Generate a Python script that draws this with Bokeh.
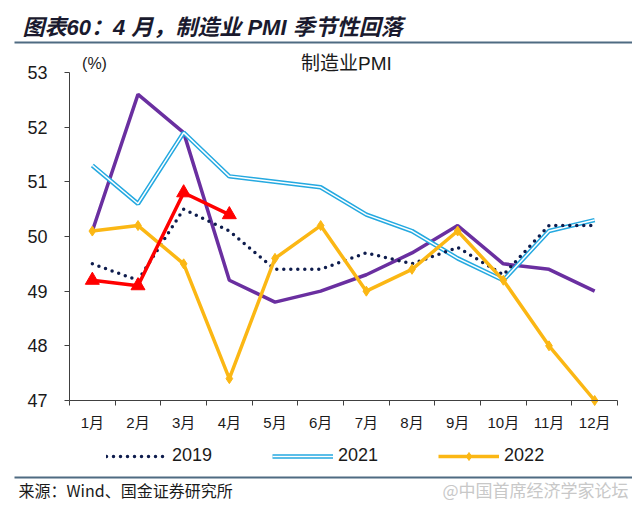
from bokeh.plotting import figure
from bokeh.models import (Range1d, FixedTicker, Label, BoxAnnotation, Legend, LegendItem)
from bokeh.embed import file_html
from bokeh.resources import INLINE

months = ["1月", "2月", "3月", "4月", "5月", "6月", "7月", "8月", "9月", "10月", "11月", "12月"]
x_idx = list(range(1, 13))
pmi_2019 = [49.5, 49.2, 50.5, 50.1, 49.4, 49.4, 49.7, 49.5, 49.8, 49.3, 50.2, 50.2]
pmi_2021 = [51.3, 50.6, 51.9, 51.1, 51.0, 50.9, 50.4, 50.1, 49.6, 49.2, 50.1, 50.3]
pmi_2022 = [50.1, 50.2, 49.5, 47.4, 49.6, 50.2, 49.0, 49.4, 50.1, 49.2, 48.0, 47.0]
pmi_2023 = [50.1, 52.6, 51.9, 49.2, 48.8, 49.0, 49.3, 49.7, 50.2, 49.5, 49.4, 49.0]
pmi_2024 = [49.2, 49.1, 50.8, 50.4]
y_ticks = [47, 48, 49, 50, 51, 52, 53]
y_min, y_max = 47, 53

CN = "Liberation Sans, Noto Sans CJK SC"

# layout in pixels: the frame covers the whole canvas, axes sit at fixed locations
W, H = 632, 503
AX_L, AX_R, AX_T, AX_B = 69, 617, 72, 400
xs = 12.0 / (AX_R - AX_L)
ys = (y_max - y_min) / (AX_B - AX_T)
x_start = 0.5 - AX_L * xs
x_end = 12.5 + (W - AX_R) * xs
y_end = y_max + AX_T * ys
y_start = y_min - (H - AX_B) * ys

p = figure(width=W, height=H, output_backend="svg", toolbar_location=None,
           x_range=Range1d(x_start, x_end), y_range=Range1d(y_start, y_end),
           min_border=0, min_border_left=0, min_border_right=0,
           min_border_top=0, min_border_bottom=0)
p.outline_line_color = None
p.grid.grid_line_color = None

p.yaxis.fixed_location = 0.5
p.yaxis.bounds = (y_min, y_max)
p.yaxis.ticker = FixedTicker(ticks=y_ticks)
p.yaxis.major_tick_out = 5
p.yaxis.major_tick_in = 0
p.yaxis.minor_tick_line_color = None
p.yaxis.axis_line_color = "#404040"
p.yaxis.major_tick_line_color = "#404040"
p.yaxis.major_label_text_font_size = "18px"
p.yaxis.major_label_text_font = CN
p.yaxis.major_label_text_color = "#1a1a1a"
p.yaxis.major_label_standoff = 17

p.xaxis.fixed_location = y_min
p.xaxis.bounds = (0.5, 12.5)
p.xaxis.ticker = FixedTicker(ticks=x_idx, minor_ticks=[i + 0.5 for i in range(0, 13)])
p.xaxis.major_label_overrides = {i: m for i, m in zip(x_idx, months)}
p.xaxis.major_tick_out = 0
p.xaxis.major_tick_in = 0
p.xaxis.minor_tick_out = 5
p.xaxis.minor_tick_in = 0
p.xaxis.minor_tick_line_color = "#404040"
p.xaxis.axis_line_color = "#404040"
p.xaxis.major_label_text_font_size = "15px"
p.xaxis.major_label_text_font = CN
p.xaxis.major_label_text_color = "#1a1a1a"
p.xaxis.major_label_standoff = 8

r2023 = p.line(x_idx, pmi_2023, line_color="#6a2fa0", line_width=3.5)
r21a = p.line(x_idx, pmi_2021, line_color="#25a9e0", line_width=4.5)
r21b = p.line(x_idx, pmi_2021, line_color="white", line_width=1.5)
r2019 = p.line(x_idx, pmi_2019, line_color="#0e1c4d", line_width=3.5,
               line_dash="0 7", line_cap="round")
r22l = p.line(x_idx, pmi_2022, line_color="#fbb714", line_width=3.5)
r22m = p.scatter(x_idx, pmi_2022, marker="diamond", size=10, fill_color="#fbb714",
                 line_color="#fbb714")
r24l = p.line(x_idx[:len(pmi_2024)], pmi_2024, line_color="#ff0000", line_width=3.5)
r24m = p.scatter(x_idx[:len(pmi_2024)], pmi_2024, marker="triangle", size=14,
                 fill_color="#ff0000", line_color="#ff0000")

legend = Legend(items=[
    LegendItem(label="2019", renderers=[r2019]),
    LegendItem(label="2021", renderers=[r21a, r21b]),
    LegendItem(label="2022", renderers=[r22l, r22m]),
], orientation="horizontal", location=(106, H - 466))
legend.glyph_width = 61
legend.label_standoff = 5
legend.spacing = 60
legend.label_text_font = CN
legend.label_text_font_size = "18px"
legend.label_text_color = "#1a1a1a"
legend.border_line_color = None
legend.background_fill_alpha = 0
legend.padding = 0
legend.margin = 0
p.add_layout(legend, "center")


def label(x, y, text, **kw):
    p.add_layout(Label(x=x, y=H - y, x_units="screen", y_units="screen", text=text,
                       text_baseline="middle", **kw))


def hline(x0, x1, y):
    p.add_layout(BoxAnnotation(left=x0, right=x1, bottom=H - y - 1, top=H - y + 1,
                               left_units="screen", right_units="screen",
                               bottom_units="screen", top_units="screen",
                               fill_color="#4f6b82", fill_alpha=1, line_color=None))


label(22, 27, "图表60：4 月，制造业 PMI 季节性回落", text_font=CN, text_font_size="22px",
      text_font_style="bold italic", text_color="#1a1a2e")
hline(14, W, 42)
label(94, 63, "(%)", text_font=CN, text_font_size="16px", text_color="#1a1a1a",
      text_align="center")
label(346, 63, "制造业PMI", text_font=CN, text_font_size="19px", text_color="#1a1a1a",
      text_align="center")
hline(14, W, 477)
label(18, 489, "来源：Wind、国金证券研究所", text_font="Noto Sans CJK SC",
      text_font_size="16px", text_color="#1a1a1a")
label(442, 489, "@中国首席经济学家论坛", text_font="Noto Sans CJK SC",
      text_font_size="17px", text_color="#c8c8c8")

open("out.html", "w").write(file_html(p, INLINE))
